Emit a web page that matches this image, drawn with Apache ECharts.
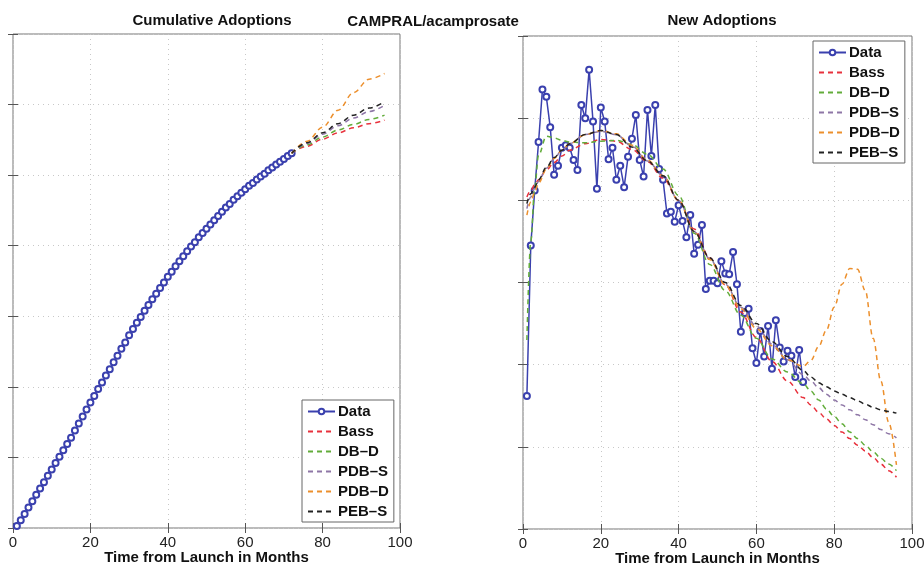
<!DOCTYPE html>
<html>
<head>
<meta charset="utf-8">
<script src="https://cdn.jsdelivr.net/npm/echarts/dist/echarts.min.js"></script>
<style>
  html, body { margin: 0; background: #fff; }
  #chart { width: 924px; height: 567px; }
</style>
</head>
<body>
<div id="chart"></div>
<script>
var myChart = echarts.init(document.getElementById('chart'), null, { renderer: 'canvas' });

// months with observed data
const dataMonths = [1,2,3,4,5,6,7,8,9,10,11,12,13,14,15,16,17,18,19,20,21,22,23,24,25,26,27,28,29,30,31,32,33,34,35,36,
  37,38,39,40,41,42,43,44,45,46,47,48,49,50,51,52,53,54,55,56,57,58,59,60,61,62,63,64,65,66,67,68,69,70,71,72];

// cumulative adoptions (left panel, arbitrary units)
const cumData = [0.03,0.11,0.20,0.29,0.38,0.47,0.56,0.65,0.74,0.83,0.92,1.01,1.10,1.19,1.28,1.38,1.48,1.58,1.68,1.78,
  1.87,1.97,2.06,2.16,2.25,2.35,2.44,2.54,2.63,2.73,2.82,2.91,2.99,3.08,3.16,3.24,3.32,3.40,3.48,3.56,
  3.63,3.71,3.78,3.85,3.92,3.99,4.05,4.12,4.18,4.24,4.30,4.36,4.42,4.48,4.54,4.59,4.65,4.70,4.75,4.80,
  4.85,4.89,4.94,4.98,5.02,5.07,5.11,5.15,5.19,5.23,5.27,5.31];

// forecast months for the cumulative panel
const cumFcMonths = [72,76,80,84,88,92,96];
const cumBass = [5.31,5.41,5.51,5.60,5.67,5.73,5.78];
const cumDBD  = [5.31,5.43,5.54,5.64,5.72,5.79,5.85];
const cumPDBS = [5.31,5.45,5.58,5.70,5.81,5.90,5.99];
const cumPDBD = [5.31,5.48,5.68,5.92,6.17,6.36,6.44];
const cumPEBS = [5.31,5.46,5.60,5.73,5.85,5.95,6.04];

// new adoptions (right panel)
const newData = [1.62,3.45,4.12,4.71,5.35,5.26,4.89,4.31,4.42,4.64,4.67,4.64,4.49,4.37,5.16,5.00,5.59,4.96,4.14,5.13,
  4.96,4.50,4.64,4.25,4.42,4.16,4.53,4.75,5.04,4.49,4.29,5.10,4.54,5.16,4.38,4.25,3.84,3.86,3.74,3.94,
  3.75,3.55,3.82,3.35,3.46,3.70,2.92,3.02,3.02,2.99,3.26,3.11,3.10,3.37,2.98,2.40,2.63,2.68,2.20,2.02,
  2.41,2.10,2.47,1.95,2.54,2.21,2.04,2.17,2.11,1.85,2.18,1.79];

// model fits / forecasts for the right panel
const modelMonths = [1,2,3,4,6,8,10,12,16,20,24,28,32,36,40,44,48,52,56,60,64,68,72,74,76,78,80,82,84,86,88,90,92,94,96];
const newBass = [4.04,4.12,4.19,4.25,4.37,4.46,4.54,4.61,4.69,4.74,4.72,4.62,4.47,4.27,4.00,3.65,3.30,2.97,2.64,2.33,
  2.04,1.80,1.60,1.51,1.42,1.34,1.26,1.18,1.10,1.02,0.95,0.87,0.79,0.71,0.63];
const newDBD = [2.30,3.50,4.15,4.55,4.78,4.76,4.73,4.71,4.70,4.72,4.73,4.68,4.56,4.38,4.06,3.60,3.22,2.90,2.60,2.32,
  2.07,1.91,1.77,1.68,1.57,1.46,1.37,1.28,1.18,1.10,1.02,0.94,0.86,0.79,0.71];
const newPDBS = [3.90,4.04,4.14,4.23,4.39,4.51,4.61,4.69,4.80,4.84,4.80,4.66,4.48,4.30,4.00,3.62,3.29,2.98,2.70,2.47,
  2.25,2.06,1.88,1.80,1.72,1.64,1.57,1.51,1.45,1.39,1.33,1.27,1.21,1.16,1.11];
const newPDBD = [3.82,3.98,4.10,4.21,4.38,4.51,4.61,4.69,4.80,4.85,4.81,4.67,4.49,4.30,4.00,3.62,3.28,2.97,2.68,2.44,
  2.23,2.06,1.98,2.05,2.22,2.42,2.70,2.98,3.17,3.16,2.90,2.32,1.80,1.30,0.78];
const newPEBS = [3.96,4.08,4.16,4.25,4.40,4.52,4.61,4.69,4.80,4.85,4.80,4.65,4.48,4.30,4.00,3.62,3.30,3.00,2.72,2.50,
  2.28,2.10,1.93,1.85,1.78,1.73,1.68,1.64,1.60,1.56,1.52,1.48,1.45,1.43,1.41];

const xTicks = ['0','20','40','60','80','100'];
const legendNames = ['Data','Bass','DB\u2013D','PDB\u2013S','PDB\u2013D','PEB\u2013S'];
const modelColors = ['#e8313c','#62ac3a','#8e76a6','#ec8f2c','#222222'];
const dataColor = '#3a40ae';

function pairs(xs, ys) {
  return ys.map(function (v, i) { return [xs[i], v]; });
}

var FONT = '"Liberation Sans", Arial, Helvetica, sans-serif';

function xAxisPair(gridIndex) {
  return [{
    type: 'value', gridIndex: gridIndex, min: 0, max: 100, interval: 20,
    position: 'bottom',
    axisLine: { show: false },
    axisTick: { inside: true, length: 5, lineStyle: { color: '#555' } },
    axisLabel: {
      margin: 7, color: '#222', fontSize: 15, fontFamily: FONT,
      formatter: function (v) { return xTicks[v / 20]; }
    },
    splitLine: { show: true, lineStyle: { type: [1, 4], color: '#c8c8c8' } },
    name: 'Time from Launch in Months', nameLocation: 'middle', nameGap: 22, nameMoveOverlap: false,
    nameTextStyle: { fontSize: 15, fontWeight: 'bold', color: '#111', fontFamily: FONT }
  }, {
    type: 'value', gridIndex: gridIndex, min: 0, max: 100, interval: 20,
    position: 'top',
    axisLine: { show: false },
    axisTick: { inside: true, length: 5, lineStyle: { color: '#555' } },
    axisLabel: { show: false },
    splitLine: { show: false }
  }];
}

function yAxisPair(gridIndex, maxV) {
  return [{
    type: 'value', gridIndex: gridIndex, min: 0, max: maxV, interval: 1,
    position: 'left',
    axisLine: { show: false },
    axisTick: { inside: true, length: 5, lineStyle: { color: '#555' } },
    axisLabel: { show: false },
    splitLine: { show: true, lineStyle: { type: [1, 4], color: '#c8c8c8' } }
  }, {
    type: 'value', gridIndex: gridIndex, min: 0, max: maxV, interval: 1,
    position: 'right',
    axisLine: { show: false },
    axisTick: { inside: true, length: 5, lineStyle: { color: '#555' } },
    axisLabel: { show: false },
    splitLine: { show: false }
  }];
}

function dataSeries(xi, yi, xs, ys) {
  return {
    name: legendNames[0], type: 'line', xAxisIndex: xi, yAxisIndex: yi,
    data: pairs(xs, ys),
    symbol: 'emptyCircle', symbolSize: 6, showAllSymbol: true,
    lineStyle: { color: dataColor, width: 1.5 },
    itemStyle: { color: dataColor, borderWidth: 1.2 },
    z: 2
  };
}

function modelSeries(k, xi, yi, xs, ys) {
  return {
    name: legendNames[k + 1], type: 'line', xAxisIndex: xi, yAxisIndex: yi,
    data: pairs(xs, ys),
    symbol: 'none', smooth: 0.35, smoothMonotone: 'x',
    lineStyle: { color: modelColors[k], width: 1.5, type: [5, 4] },
    itemStyle: { color: modelColors[k] },
    z: 3
  };
}

function legendAt(left, top) {
  var items = legendNames.map(function (n, i) {
    if (i === 0) return { name: n, itemStyle: { borderWidth: 1.5 } };
    return { name: n, itemStyle: { opacity: 0 } };
  });
  return {
    orient: 'vertical', left: left, top: top,
    data: items,
    backgroundColor: '#fff', borderColor: '#666', borderWidth: 1, borderRadius: 0,
    padding: [4, 5, 3, 5],
    itemWidth: 27, itemHeight: 7, itemGap: 5,
    selectedMode: false,
    textStyle: { fontSize: 15, fontWeight: 'bold', color: '#111', fontFamily: FONT, lineHeight: 15, padding: [0, 0, 0, -2] }
  };
}

var cumModels = [cumBass, cumDBD, cumPDBS, cumPDBD, cumPEBS];
var newModels = [newBass, newDBD, newPDBS, newPDBD, newPEBS];

var series = [dataSeries(0, 0, dataMonths, cumData)];
cumModels.forEach(function (m, k) { series.push(modelSeries(k, 0, 0, cumFcMonths, m)); });
series.push(dataSeries(2, 2, dataMonths, newData));
newModels.forEach(function (m, k) { series.push(modelSeries(k, 2, 2, modelMonths, m)); });

var option = {
  animation: false,
  backgroundColor: '#fff',
  title: [
    { text: 'Cumulative Adoptions', left: 207, top: 8, textAlign: 'center',
      textStyle: { fontSize: 15, fontWeight: 'bold', color: '#111', fontFamily: FONT } },
    { text: 'CAMPRAL/acamprosate', left: 428, top: 9, textAlign: 'center',
      textStyle: { fontSize: 15, fontWeight: 'bold', color: '#111', fontFamily: FONT } },
    { text: 'New Adoptions', left: 717, top: 8, textAlign: 'center',
      textStyle: { fontSize: 15, fontWeight: 'bold', color: '#111', fontFamily: FONT } }
  ],
  legend: [legendAt(302, 400), legendAt(813, 41)],
  grid: [
    { left: 13, top: 34, width: 387, height: 494, outerBoundsMode: 'none', containLabel: false,
      show: true, borderColor: '#777', borderWidth: 1, backgroundColor: 'transparent' },
    { left: 523, top: 36, width: 389, height: 493, outerBoundsMode: 'none', containLabel: false,
      show: true, borderColor: '#777', borderWidth: 1, backgroundColor: 'transparent' }
  ],
  xAxis: xAxisPair(0).concat(xAxisPair(1)),
  yAxis: yAxisPair(0, 7).concat(yAxisPair(1, 6)),
  series: series
};

myChart.setOption(option);
window.addEventListener('resize', myChart.resize);
</script>
</body>
</html>
